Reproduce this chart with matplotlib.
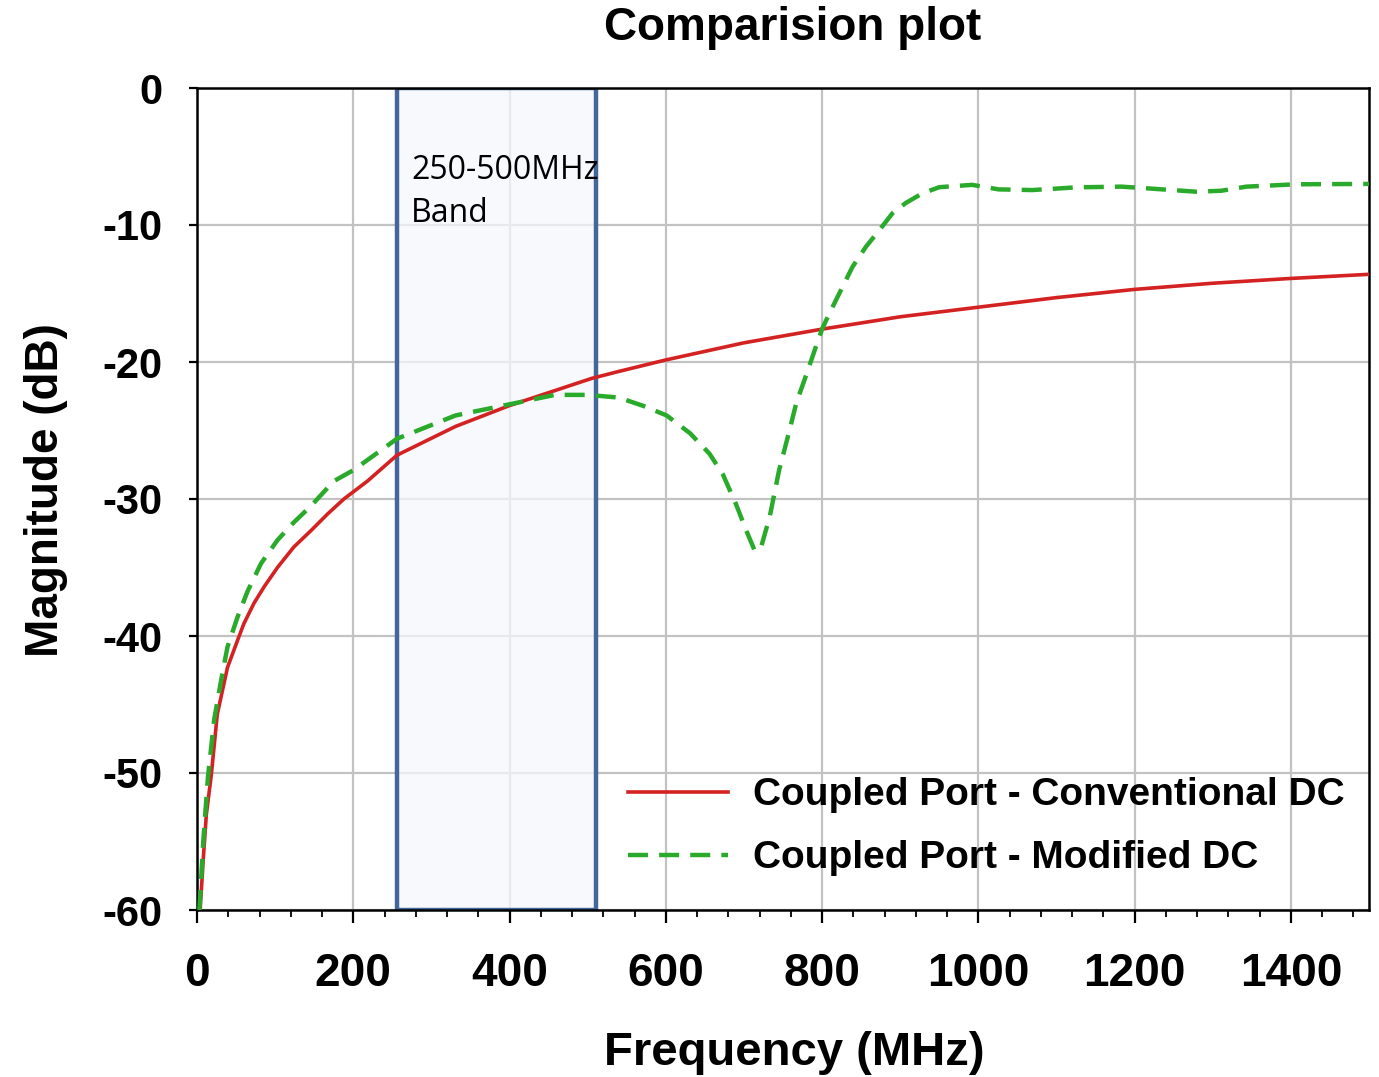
import matplotlib
matplotlib.use("Agg")
import matplotlib.pyplot as plt
from matplotlib.ticker import MultipleLocator

plt.rcParams['font.family'] = ['Liberation Sans', 'DejaVu Sans']
plt.rcParams['font.weight'] = 'bold'
plt.rcParams['axes.unicode_minus'] = False

# Curves (frequency in MHz, magnitude in dB)
freq_conv = [4, 8, 12, 18, 26, 39, 52, 60, 73, 86, 103, 124, 146, 167, 188, 218,
             256, 331, 399, 505, 539, 600, 700, 800, 900, 1000, 1100, 1200, 1300,
             1400, 1500]
mag_conv = [-60, -56.3, -53, -50.3, -45.7, -42.3, -40.3, -39.1, -37.6, -36.4, -35.0,
            -33.5, -32.3, -31.1, -30.0, -28.7, -26.8, -24.7, -23.2, -21.2, -20.7,
            -19.85, -18.6, -17.6, -16.7, -16.0, -15.3, -14.7, -14.25, -13.9, -13.6]

freq_mod = [3, 8, 14, 22, 31, 39, 52, 65, 82, 103, 124, 146, 175, 200, 256, 331,
            399, 458, 500, 540, 571, 601, 631, 656, 673, 690, 703, 714, 722, 733,
            745, 756, 767, 780, 792, 800, 809, 822, 839, 856, 873, 890, 907, 928,
            950, 992, 1026, 1069, 1126, 1183, 1215, 1279, 1311, 1343, 1406, 1500]
mag_mod = [-60, -55, -50.3, -46.1, -43.2, -40.8, -38.6, -36.7, -34.7, -33.0, -31.7,
           -30.5, -28.7, -27.9, -25.6, -23.9, -23.1, -22.4, -22.4, -22.6, -23.2,
           -23.9, -25.2, -26.7, -28.2, -30.4, -32.3, -33.8, -33.5, -31.3, -27.9,
           -25.5, -23.0, -20.9, -18.9, -17.6, -16.5, -15.0, -13.05, -11.6, -10.4,
           -9.15, -8.4, -7.7, -7.24, -7.07, -7.4, -7.45, -7.25, -7.2, -7.32, -7.57,
           -7.5, -7.2, -7.03, -7.0]

labels = ['Coupled Port - Conventional DC', 'Coupled Port - Modified DC']
band_lo, band_hi = 256, 511
band_text = '250-500MHz\nBand'

fig = plt.figure(figsize=(13.79, 10.77), dpi=100)
ax = fig.add_axes([197 / 1379, 1 - 910 / 1077, 1172 / 1379, 822 / 1077])

# grid first, then the band box, then the curves on top
ax.set_axisbelow(True)
ax.grid(True, which='major', color='#c2c2c2', linewidth=1.6)
ax.axvspan(band_lo, band_hi, facecolor=(0.96, 0.97, 0.99, 0.75),
           edgecolor='#43679b', linewidth=3.2, zorder=1.5)

ax.plot(freq_conv, mag_conv, color='#d42222', linewidth=2.6, label=labels[0], zorder=3)
ax.plot(freq_mod, mag_mod, color='#2aaa2a', linewidth=3.2, dashes=(4.5, 2.5),
        label=labels[1], zorder=3)

ax.text(274, -4.8, band_text, fontfamily='Open Sans', fontweight='normal',
        fontsize=23, va='top', ha='left', linespacing=1.4, zorder=4)

ax.set_xlim(0, 1500)
ax.set_ylim(-60, 0)
ax.xaxis.set_major_locator(MultipleLocator(200))
ax.xaxis.set_minor_locator(MultipleLocator(40))
ax.yaxis.set_major_locator(MultipleLocator(10))

ax.tick_params(axis='x', which='major', direction='out', length=9, width=1.6,
               labelsize=33, pad=21)
ax.tick_params(axis='x', which='minor', direction='out', length=5, width=1.3)
ax.tick_params(axis='y', which='major', direction='out', length=6, width=1.6,
               labelsize=30, pad=19)
for sp in ax.spines.values():
    sp.set_linewidth(1.8)
    sp.set_color('black')

ax.set_xlabel('Frequency (MHz)', fontsize=34, fontweight='bold')
ax.set_ylabel('Magnitude (dB)', fontsize=33, fontweight='bold')
ax.xaxis.set_label_coords((794 - 197) / 1172, (910 - 1031) / 822)
ax.yaxis.set_label_coords(-0.11, 0.511)

fig.text(793 / 1379, 1 - 28 / 1077, 'Comparision plot', fontsize=33,
         fontweight='bold', ha='center', va='center')

ax.legend(loc='lower left', bbox_to_anchor=(0.3677, 0.041), frameon=False,
          fontsize=28, handlelength=2.57, handletextpad=0.65, labelspacing=0.69,
          borderpad=0, borderaxespad=0)

fig.savefig('out.png', dpi=100)
